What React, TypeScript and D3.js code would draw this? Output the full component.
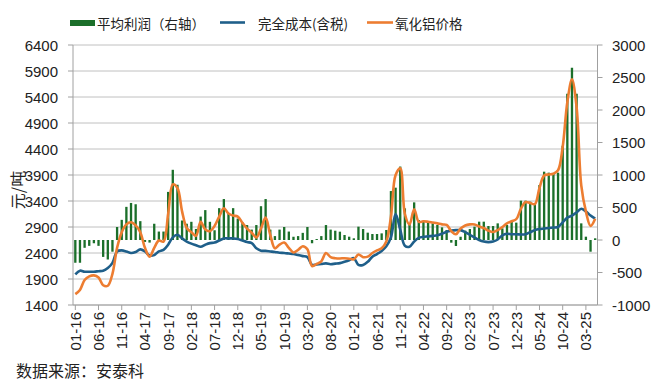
import React from "react";
import * as d3 from "d3";

const tickLabels = ["01-16","06-16","11-16","04-17","09-17","02-18","07-18","12-18","05-19","10-19","03-20","08-20","01-21","06-21","11-21","04-22","09-22","02-23","07-23","12-23","05-24","10-24","03-25"];

// 平均利润（右轴）, monthly from 2016-01
const profit = [
  -350,-350,-120,-90,-50,-90,-260,-300,-180,200,
  310,510,570,550,290,-30,-40,250,130,130,
  740,1080,850,300,250,280,170,360,460,280,
  150,490,630,410,490,330,270,230,160,230,
  520,630,160,60,160,200,130,50,60,110,
  200,-50,15,60,230,160,143,128,77,51,
  26,205,169,113,92,92,102,154,753,805,
  1130,487,246,579,307,297,282,256,231,195,
  154,-41,-92,50,144,169,205,282,282,215,
  215,256,179,231,282,267,605,605,590,564,
  846,1051,1036,1026,1036,1450,2250,2650,2250,256,
  51,-180,26
];

// 完全成本(含税)
const cost = [
  1990,2060,2040,2040,2040,2050,2060,2110,2210,2430,
  2450,2430,2400,2420,2470,2430,2350,2360,2430,2460,
  2560,2700,2750,2680,2620,2580,2550,2520,2560,2590,
  2600,2640,2680,2680,2680,2670,2640,2610,2590,2490,
  2445,2440,2430,2420,2405,2400,2390,2380,2360,2340,
  2320,2170,2180,2190,2200,2185,2195,2205,2230,2260,
  2300,2170,2170,2230,2330,2380,2440,2530,2700,3150,
  2850,2540,2520,2620,2690,2710,2720,2730,2740,2770,
  2810,2830,2840,2840,2800,2750,2700,2650,2620,2610,
  2620,2660,2740,2770,2760,2760,2755,2760,2800,2840,
  2860,2870,2880,2890,2900,2990,3080,3120,3180,3250,
  3200,3120,3060
];

// 氧化铝价格
const price = [
  1610,1690,1880,1950,1970,1930,1780,1770,2000,2500,
  2800,2950,2990,2930,2800,2500,2330,2500,2640,2620,
  3150,3720,3650,3200,2880,2800,2730,3000,2850,2820,
  2920,3100,3260,3160,3120,3100,2980,2870,2790,2700,
  2870,3080,2750,2490,2560,2600,2500,2410,2460,2530,
  2470,2150,2190,2240,2400,2320,2300,2295,2300,2290,
  2280,2370,2320,2330,2400,2450,2490,2620,3100,3900,
  4030,3150,2950,3240,3000,3010,3000,2985,2970,2950,
  2940,2820,2760,2870,2930,2950,2950,2910,2880,2830,
  2805,2840,2900,2970,3010,3050,3250,3380,3360,3340,
  3650,3890,3910,3925,3990,4440,5300,5740,5200,3700,
  3200,2920,3060
];

const leftTicks = [1400,1900,2400,2900,3400,3900,4400,4900,5400,5900,6400];
const rightTicks = [-1000,-500,0,500,1000,1500,2000,2500,3000];

const LAT = "'Liberation Sans', Arial, sans-serif";
const CJK = "'Noto Sans CJK SC', 'Noto Sans', sans-serif";

export default function App() {
  const W = 660, H = 382;
  const x0 = 73, x1 = 597.5, yTop = 45, yBot = 305;
  const n = profit.length;
  const idx = d3.range(n);
  const x = d3.scaleBand<number>().domain(idx).range([x0, x1]).paddingInner(0.5).paddingOuter(0.25);
  const cx = (i: number) => (x(i) as number) + x.bandwidth() / 2;
  const yL = d3.scaleLinear().domain([1400, 6400]).range([yBot, yTop]);
  const yR = d3.scaleLinear().domain([-1000, 3000]).range([yBot, yTop]);
  const lineGen = d3.line<number>().x((d, i) => cx(i)).y(d => yL(d)).curve(d3.curveCatmullRom.alpha(0.5));
  const axisColor = "#a0a0a0";
  const gridColor = "#c0c0c0";
  const textColor = "#222";
  const green = "#1b6f2a";

  return (
    <svg width={W} height={H} style={{ position: "absolute", left: 0, top: 0, background: "#fff" }}>
      <rect x={0} y={0} width={W} height={H} fill="#fff" />
      {leftTicks.map(t => (
        <line key={"g" + t} x1={x0} x2={x1} y1={yL(t)} y2={yL(t)} stroke={gridColor} strokeWidth={1} />
      ))}
      {profit.map((v, i) => (
        <rect key={"b" + i} x={x(i)} width={x.bandwidth()} y={Math.min(yR(v), yR(0))} height={Math.abs(yR(v) - yR(0))} fill={green} />
      ))}
      <path d={lineGen(cost) || ""} fill="none" stroke="#1f5f8a" strokeWidth={2.6} strokeLinejoin="round" />
      <path d={lineGen(price) || ""} fill="none" stroke="#ed7d31" strokeWidth={2.6} strokeLinejoin="round" />
      <line x1={x0} x2={x0} y1={yTop} y2={yBot} stroke={axisColor} />
      <line x1={x1} x2={x1} y1={yTop} y2={yBot} stroke={axisColor} />
      <line x1={x0} x2={x1} y1={yBot} y2={yBot} stroke={axisColor} />
      {leftTicks.map(t => (
        <g key={"l" + t}>
          <line x1={x0 - 5} x2={x0} y1={yL(t)} y2={yL(t)} stroke={axisColor} />
          <text x={58} y={yL(t)} textAnchor="end" dominantBaseline="central" fontFamily={LAT} fontSize={15} fill={textColor}>{t}</text>
        </g>
      ))}
      {rightTicks.map(t => (
        <g key={"r" + t}>
          <line x1={x1} x2={x1 + 5} y1={yR(t)} y2={yR(t)} stroke={axisColor} />
          <text x={612} y={yR(t)} textAnchor="start" dominantBaseline="central" fontFamily={LAT} fontSize={15} fill={textColor}>{t}</text>
        </g>
      ))}
      {tickLabels.map((lab, k) => {
        const i = k * 5;
        const px = cx(i);
        return (
          <g key={"x" + lab}>
            <line x1={px} x2={px} y1={yBot} y2={yBot + 5} stroke={axisColor} />
            <text transform={`translate(${px},${yBot + 7}) rotate(-90)`} textAnchor="end" dominantBaseline="central" fontFamily={LAT} fontSize={15} fill={textColor}>{lab}</text>
          </g>
        );
      })}
      <text transform="translate(17,190) rotate(-90)" textAnchor="middle" dominantBaseline="central" fontFamily={CJK} fontSize={16} fill={textColor}>元/吨</text>
      <rect x={70} y={20} width={25} height={6} fill={green} />
      <text x={97} y={22.5} dominantBaseline="central" fontFamily={CJK} fontSize={13.5} fill={textColor}>平均利润（右轴）</text>
      <line x1={220} x2={245} y1={22.5} y2={22.5} stroke="#1f5f8a" strokeWidth={2.6} />
      <text x={258} y={22.5} dominantBaseline="central" fontFamily={CJK} fontSize={13.5} fill={textColor}>完全成本(含税)</text>
      <line x1={367} x2={393} y1={22.5} y2={22.5} stroke="#ed7d31" strokeWidth={2.6} />
      <text x={395} y={22.5} dominantBaseline="central" fontFamily={CJK} fontSize={13.5} fill={textColor}>氧化铝价格</text>
      <text x={16} y={370} dominantBaseline="central" fontFamily={CJK} fontSize={16} fill={textColor}>数据来源：安泰科</text>
    </svg>
  );
}
